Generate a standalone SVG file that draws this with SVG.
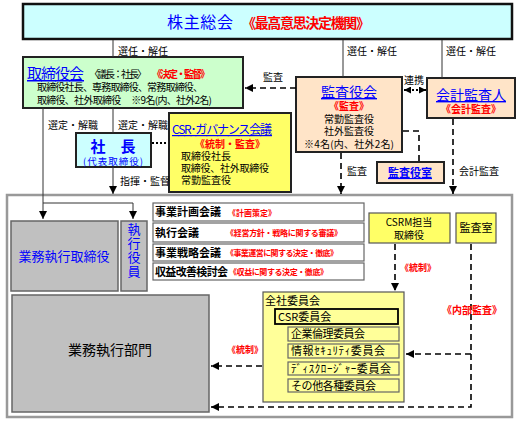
<svg xmlns="http://www.w3.org/2000/svg" width="522" height="427" viewBox="0 0 522 427">
<style>
text{font-family:"Noto Sans CJK JP","Liberation Sans",sans-serif;fill:#000}
.b{fill:#0000ff}
.r{fill:#ff0000;font-weight:bold}
.u{text-decoration:underline}
.s{font-size:10px}
.m{font-size:11px}
.box{stroke:#222;stroke-width:2}
.gray{fill:#c0c0c0;stroke:#666;stroke-width:1.5}
.mt{fill:#fff;stroke:#666;stroke-width:1.2}
.ln{fill:none;stroke:#333;stroke-width:1}
.da{fill:none;stroke:#000;stroke-width:1.6;stroke-dasharray:6,4}
.dt{fill:none;stroke:#000;stroke-width:2;stroke-dasharray:2,2}
.sub{fill:#ffff99;stroke:#666;stroke-width:1.2}
</style>
<defs>
<marker id="ah" markerUnits="userSpaceOnUse" markerWidth="8" markerHeight="8" refX="8" refY="4" orient="auto"><path d="M0,0 L8,4 L0,8 z" fill="#000"/></marker>
<marker id="ahs" markerUnits="userSpaceOnUse" markerWidth="7" markerHeight="7" refX="0" refY="3.5" orient="auto"><path d="M7,0 L0,3.5 L7,7 z" fill="#000"/></marker>
<marker id="ahe" markerUnits="userSpaceOnUse" markerWidth="7" markerHeight="7" refX="7" refY="3.5" orient="auto"><path d="M0,0 L7,3.5 L0,7 z" fill="#000"/></marker>
</defs>
<rect width="522" height="427" fill="#fff"/>

<g id="frame">
<rect x="7" y="195" width="505" height="222" fill="#fff" stroke="#999" stroke-width="2.5"/>
</g>

<g id="shareholders">
<rect x="23" y="4" width="489" height="35" fill="#ccffff" stroke="#111" stroke-width="2.5"/>
<text x="167" y="28" font-size="16" class="b" textLength="66">株主総会</text>
<text x="242" y="28" font-size="14" class="r" textLength="128">《最高意思決定機関》</text>
</g>

<g id="board">
<rect x="23" y="57" width="220" height="51" fill="#ccffcc" class="box"/>
<text x="27" y="79" font-size="15" class="b u" textLength="57">取締役会</text>
<text x="89" y="78" class="s" textLength="58">〈議長：社長〉</text>
<text x="152" y="78" class="r s" textLength="58">《決定・監督》</text>
<text class="s"><tspan x="37" y="91" textLength="166">取締役社長、専務取締役、常務取締役、</tspan><tspan x="37" y="104" textLength="175">取締役、社外取締役　 ※9名(内、社外2名)</tspan></text>
</g>

<g id="president">
<rect x="76" y="133" width="75" height="34" fill="#ccffff" class="box"/>
<text text-anchor="middle" class="b"><tspan x="113" y="152" font-size="15" font-weight="bold">社　長</tspan><tspan x="113" y="165" font-size="9.5" textLength="60">(代表取締役)</tspan></text>
</g>

<g id="csr-gov">
<rect x="169" y="113" width="122" height="79" fill="#ffff66" class="box"/>
<text x="172" y="134" font-size="12" class="b u" textLength="100">CSR･ガバナンス会議</text>
<text x="230" y="148" class="r s" text-anchor="middle">《統制・監査》</text>
<text class="s"><tspan x="181" y="160">取締役社長</tspan><tspan x="181" y="172" textLength="88">取締役、社外取締役</tspan><tspan x="181" y="184">常勤監査役</tspan></text>
</g>

<g id="auditors">
<rect x="296" y="77" width="106" height="75" fill="#ffe4c8" class="box"/>
<text x="349" y="97" font-size="14" class="b u" text-anchor="middle">監査役会</text>
<text x="349" y="110" class="r s" text-anchor="middle">《監査》</text>
<text class="s" text-anchor="middle"><tspan x="349" y="123">常勤監査役</tspan><tspan x="349" y="135">社外監査役</tspan><tspan x="349" y="148" textLength="90">※4名(内、社外2名)</tspan></text>
</g>

<g id="accounting-auditor">
<rect x="427" y="78" width="88" height="40" fill="#ffe4c8" class="box"/>
<text x="471" y="100" font-size="14" class="b u" text-anchor="middle">会計監査人</text>
<text x="471" y="113" class="r s" text-anchor="middle">《会計監査》</text>
</g>

<g id="auditor-office">
<rect x="377" y="162" width="67" height="21" fill="#ffe4c8" class="box"/>
<text x="410" y="177" font-size="11" font-weight="bold" class="b u" text-anchor="middle">監査役室</text>
</g>

<g id="exec-directors">
<rect x="11" y="221" width="107" height="70" class="gray"/>
<text x="64" y="261" font-size="13" class="b" text-anchor="middle">業務執行取締役</text>
</g>

<g id="exec-officers">
<rect x="121" y="221" width="26" height="70" class="gray"/>
<text x="134" y="223" font-size="13" class="b" writing-mode="vertical-rl" letter-spacing="1">執行役員</text>
</g>

<g id="exec-dept">
<rect x="12" y="295" width="197" height="117" class="gray"/>
<text x="110" y="355" font-size="14" text-anchor="middle">業務執行部門</text>
</g>

<g id="meetings">
<rect x="153" y="203" width="211" height="18" class="mt"/>
<text x="155" y="216" font-size="11" font-weight="bold">事業計画会議</text>
<text x="228" y="216" class="r" font-size="8">《計画策定》</text>
<rect x="153" y="223" width="211" height="19" class="mt"/>
<text x="155" y="237" font-size="11" font-weight="bold">執行会議</text>
<text x="226" y="236" class="r" font-size="8" textLength="116">《経営方針・戦略に関する審議》</text>
<rect x="153" y="244" width="211" height="17" class="mt"/>
<text x="155" y="257" font-size="11" font-weight="bold">事業戦略会議</text>
<text x="226" y="256" class="r" font-size="8" textLength="112">《事業運営に関する決定・徹底》</text>
<rect x="153" y="263" width="211" height="17" class="mt"/>
<text x="155" y="276" font-size="11" font-weight="bold" textLength="73">収益改善検討会</text>
<text x="229" y="275" class="r" font-size="8" textLength="99">《収益に関する決定・徹底》</text>
</g>

<g id="csrm">
<rect x="369" y="213" width="81" height="30" fill="#ffff66" stroke="#555" stroke-width="1.2"/>
<text class="s" text-anchor="middle"><tspan x="409" y="226">CSRM担当</tspan><tspan x="409" y="239">取締役</tspan></text>
</g>

<g id="audit-office">
<rect x="456" y="213" width="40" height="30" fill="#ffff66" stroke="#555" stroke-width="1.2"/>
<text x="476" y="232" class="m" text-anchor="middle">監査室</text>
</g>

<g id="committees">
<rect x="263" y="292" width="141" height="110" fill="#ffff99" stroke="#555" stroke-width="1.2"/>
<text x="265" y="305" class="m">全社委員会</text>
<rect x="275" y="309" width="123" height="15" fill="#ffff99" stroke="#000" stroke-width="1.8"/>
<text x="278" y="321" class="m">CSR委員会</text>
<rect x="288" y="327" width="111" height="14" class="sub"/>
<text x="291" y="338" class="m" textLength="74">企業倫理委員会</text>
<rect x="288" y="344" width="111" height="14" class="sub"/>
<text x="291" y="355" class="m" textLength="94">情報ｾｷｭﾘﾃｨ委員会</text>
<rect x="288" y="362" width="111" height="13" class="sub"/>
<text x="291" y="373" class="m" textLength="100">ﾃﾞｨｽｸﾛｰｼﾞｬｰ委員会</text>
<rect x="288" y="379" width="111" height="13" class="sub"/>
<text x="291" y="390" class="m" textLength="85">その他各種委員会</text>
</g>

<g id="connectors">
<path class="ln" d="M113,40 V57"/>
<path class="ln" d="M343,40 V77"/>
<path class="ln" d="M442,40 V78"/>
<path class="ln" d="M43,108 V219" marker-end="url(#ah)"/>
<path class="ln" d="M43,203 H133 V219" marker-end="url(#ah)"/>
<path class="ln" d="M113,108 V133"/>
<path class="ln" d="M113,167 V194" marker-end="url(#ah)"/>
<path class="dt" d="M152,143 H168" stroke-width="1.5"/>
<path class="da" d="M296,88 H245" marker-end="url(#ah)"/>
<path class="dt" d="M404,90 H426" marker-start="url(#ahs)" marker-end="url(#ahe)"/>
<path class="da" d="M403,131 H419 V162"/>
<path class="da" d="M341,153 V194" marker-end="url(#ah)"/>
<path class="da" d="M453,119 V194" stroke-width="2.2" marker-end="url(#ah)"/>
<path class="da" d="M395,244 V291" marker-end="url(#ah)"/>
<path class="da" d="M471,244 V407 H211" marker-end="url(#ah)"/>
<path class="da" d="M471,354 H406" marker-end="url(#ah)"/>
<path class="da" d="M262,366 H211" marker-end="url(#ah)"/>
<text x="118" y="55" class="s">選任・解任</text>
<text x="347" y="55" class="s">選任・解任</text>
<text x="446" y="55" class="s">選任・解任</text>
<text x="48" y="129" class="s">選定・解職</text>
<text x="118" y="129" class="s">選定・解職</text>
<text x="120" y="185" class="s">指揮・監督</text>
<text x="273" y="81" class="s" text-anchor="middle">監査</text>
<text x="414" y="84" class="s" text-anchor="middle">連携</text>
<text x="347" y="175" class="s">監査</text>
<text x="459" y="175" class="s">会計監査</text>
<text x="400" y="271" class="r" font-size="9">《統制》</text>
<text x="442" y="314" class="r" font-size="10">《内部監査》</text>
<text x="227" y="353" class="r" font-size="9">《統制》</text>
</g>
</svg>
